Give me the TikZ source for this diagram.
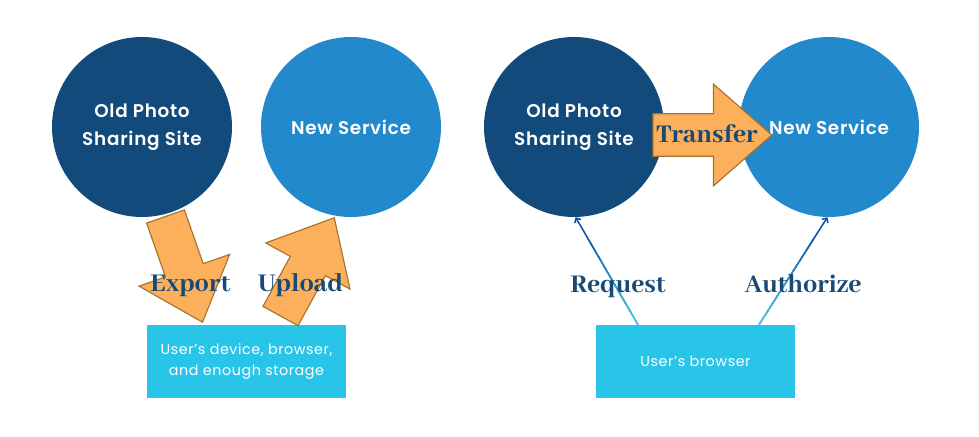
\documentclass[tikz,border=0pt]{standalone}
\usepackage{fontspec}
\setsansfont{Poppins}[LetterSpace=4, BoldFont={Poppins SemiBold}]
\newfontfamily\labelfont{Abhaya Libre}[BoldFont={Abhaya Libre ExtraBold}]
\usepackage{tikz}
\usetikzlibrary{calc,arrows.meta}

\definecolor{olddark}{HTML}{124A7B}
\definecolor{newblue}{HTML}{2389CD}
\definecolor{userfill}{HTML}{29C5E9}
\definecolor{arrowfill}{HTML}{FDB05B}
\definecolor{arrowline}{HTML}{A8742C}
\definecolor{labelblue}{HTML}{174A75}
\definecolor{linklow}{HTML}{48D0E2}
\definecolor{linkhigh}{HTML}{0E4DA4}

\tikzset{
  site/.style={circle, minimum size=5.4cm, inner sep=0pt, text=white,
    font=\sffamily\bfseries\fontsize{15.7}{24}\selectfont, align=center},
  userbox/.style={fill=userfill, minimum width=5.97cm, minimum height=2.19cm,
    inner sep=0pt, text=white, font=\sffamily\fontsize{12.2}{18}\selectfont, align=center},
  flowlabel/.style={text=labelblue, anchor=base, inner sep=0pt,
    font=\labelfont\bfseries\fontsize{24}{28}\selectfont},
  link/.style={linkhigh, line width=1.3pt, -{Straight Barb[length=3pt,width=6pt]}},
  pics/bigarrow/.style={code={
    \draw[fill=arrowfill, draw=arrowline, line width=1pt, line join=miter]
      (0,-20) -- (57,-20) -- (57,-48) -- (112,0) -- (57,48) -- (57,20) -- (0,20) -- cycle;
  }}
}

\begin{document}
\begin{tikzpicture}[x=0.3mm, y=-0.3mm]
  \useasboundingbox (0,0) rectangle (979,436);

  % export / upload side
  \node [site, fill=olddark] (old1) at (142,127) {Old Photo\\Sharing Site};
  \node [site, fill=newblue] (new1) at (351,127) {New Service};
  \node [userbox] (device) at (246.5,361.5) {User’s device, browser,\\and enough storage};
  \pic [rotate=-70.7] at (165.5,216.5) {bigarrow};
  \pic [rotate=61.3] at (280.5,316) {bigarrow};
  \node [flowlabel] (export) at (190.5,291) {Export};
  \node [flowlabel] (upload) at (300.5,291) {Upload};

  % transfer side
  \node [site, fill=olddark] (old2) at (574,127) {Old Photo\\Sharing Site};
  \node [site, fill=newblue] (new2) at (829,127) {New Service};
  \node [userbox] (browser) at (695.5,361.5) {User’s browser};
  \pic [scale=1.06] at (653,135) {bigarrow};
  \node [flowlabel] (transfer) at (707,142) {Transfer};

  \coordinate (reqstart) at ($(browser.north)+(-57.5,0)$);
  \coordinate (authstart) at ($(browser.north)+(63.5,0)$);
  \draw [link] (reqstart) -- (old2.-89);
  \draw [link] (authstart) -- (new2.-91);
  \foreach \i [evaluate=\i as \p using 100-\i*12] in {0,...,7} {
    \draw [linklow!\p!linkhigh, line width=1.3pt]
      ($(reqstart)!\i/10!(old2.-89)$) -- ($(reqstart)!\i/10+0.1!(old2.-89)$);
    \draw [linklow!\p!linkhigh, line width=1.3pt]
      ($(authstart)!\i/10!(new2.-91)$) -- ($(authstart)!\i/10+0.1!(new2.-91)$);
  }
  \node [flowlabel] (request) at (618,292) {Request};
  \node [flowlabel] (authorize) at (803,292) {Authorize};
\end{tikzpicture}
\end{document}
